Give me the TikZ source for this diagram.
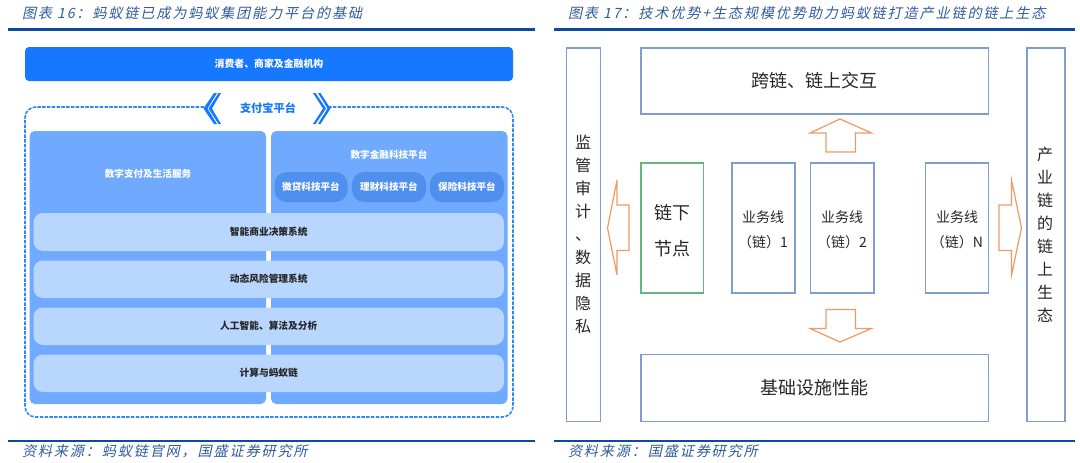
\documentclass[tikz,border=0pt]{standalone}
\usepackage{fontspec}
\setmainfont{Noto Sans CJK SC}
\newfontfamily\kai[FakeSlant=0.22,Color=2F5C9E,LetterSpace=13]{Noto Sans CJK SC}
\definecolor{rulec}{HTML}{0B4A9E}
\definecolor{barblue}{HTML}{1677FF}
\definecolor{panelblue}{HTML}{70AAFF}
\definecolor{pillblue}{HTML}{4F90EE}
\definecolor{lightblue}{HTML}{B9D6FF}
\definecolor{boxblue}{HTML}{7F9DD0}
\definecolor{boxgreen}{HTML}{62B680}
\definecolor{arroworange}{HTML}{EE9A66}
\definecolor{dark}{HTML}{262626}
\newcommand{\pxbox}[7]{%
  \pgfmathsetmacro{\pw}{(#5-#3)*0.75}\pgfmathsetmacro{\ph}{(#6-#4)*0.75}%
  \node[#2,minimum width=\pw pt,minimum height=\ph pt] (#1) at ({(#3+#5)/2},{(#4+#6)/2}) {#7};}
\tikzset{
  base/.style={inner sep=0pt,outer sep=0pt,align=center},
  topbar/.style={base,fill=barblue,rounded corners=3pt,text=white,font=\fontsize{7.4}{10}\selectfont\bfseries},
  panel/.style={base,fill=panelblue,rounded corners=4pt},
  pill/.style={base,fill=pillblue,rounded corners=9pt,text=white,font=\fontsize{7.2}{9}\selectfont\bfseries},
  lbar/.style={base,fill=lightblue,rounded corners=7pt,text=dark,font=\fontsize{7.3}{9}\selectfont\bfseries},
  wlabel/.style={base,text=white,font=\fontsize{7.2}{9}\selectfont\bfseries},
  rulel/.style={base,fill=rulec},
  titlet/.style={inner sep=0pt,outer sep=0pt,anchor=west,font=\fontsize{10.6}{12}\kai},
  foott/.style={inner sep=0pt,outer sep=0pt,anchor=west,font=\fontsize{10.6}{12}\kai},
  bbox/.style={base,draw=boxblue,line width=1pt,text=dark},
  gbox/.style={base,draw=boxgreen,line width=1pt,text=dark},
  bigt/.style={font=\fontsize{13.5}{20}\selectfont},
  midt/.style={font=\fontsize{10.5}{18.5}\selectfont},
  vert/.style={base,text=dark,font=\fontsize{12}{17.25}\selectfont},
  dashb/.style={draw=barblue!90!white,line width=1.2pt,dash pattern=on 2.6pt off 1pt},
  chev/.style={fill=barblue,draw=none},
  orangearrow/.style={draw=arroworange,line width=0.9pt,fill=white,line join=miter},
}
\begin{document}
\begin{tikzpicture}[x=0.75pt,y=-0.75pt]
\useasboundingbox (0,0) rectangle (1080,462);
% ---- left figure
\node[titlet] (t16) at (22,13) {图表 16：蚂蚁链已成为蚂蚁集团能力平台的基础};
\pxbox{rl1}{rulel}{8}{27.5}{535}{30.5}{}
\pxbox{consumers}{topbar}{25}{47}{513}{81}{消费者、商家及金融机构}
% dashed frame
\coordinate (dl) at (204,107);
\coordinate (dr) at (329,107);
\draw[dashb,rounded corners=8pt] (dl) -- (25,107) -- (25,417) -- (513,417) -- (513,107) -- (dr);
\node[base,text=barblue,font=\fontsize{8.4}{10}\selectfont\bfseries] (alipay) at (268,108.5) {支付宝平台};
% chevrons
\fill[chev] (214,93) -- (203.5,108.5) -- (214,124) -- (217,124) -- (207.5,108.5) -- (217,93) -- cycle;
\fill[chev] (218.5,93) -- (208.5,108.5) -- (218.5,124) -- (221,124) -- (212,108.5) -- (221,93) -- cycle;
\fill[chev] (313,93) -- (323,108.5) -- (313,124) -- (315.5,124) -- (326,108.5) -- (315.5,93) -- cycle;
\fill[chev] (318,93) -- (327.5,108.5) -- (318,124) -- (320.5,124) -- (330.5,108.5) -- (320.5,93) -- cycle;
% panels
\pxbox{pl}{panel}{29.5}{131}{266}{404}{}
\pxbox{pr}{panel}{271}{131}{507.5}{404}{}
\node[wlabel] (digpay) at (148,174) {数字支付及生活服务};
\node[wlabel] (digfin) at (389,155) {数字金融科技平台};
\pxbox{p1}{pill}{274.5}{172}{347.5}{202}{微贷科技平台}
\pxbox{p2}{pill}{352}{172}{426}{202}{理财科技平台}
\pxbox{p3}{pill}{430}{172}{504}{202}{保险科技平台}
\pxbox{b1}{lbar}{33.5}{213}{504}{251}{智能商业决策系统}
\pxbox{b2}{lbar}{33.5}{260.5}{504}{298}{动态风险管理系统}
\pxbox{b3}{lbar}{33.5}{307.5}{504}{345}{人工智能、算法及分析}
\pxbox{b4}{lbar}{33.5}{354.5}{504}{392}{计算与蚂蚁链}
\pxbox{rl2}{rulel}{8}{439.5}{535}{442}{}
\node[foott] (s16) at (22,451) {资料来源：蚂蚁链官网，国盛证券研究所};
% ---- right figure
\node[titlet] (t17) at (568,13) {图表 17：技术优势+生态规模优势助力蚂蚁链打造产业链的链上生态};
\pxbox{rr1}{rulel}{554}{27.5}{1075}{30.5}{}
\pxbox{audit}{bbox}{566.5}{48}{600.5}{421.5}{}
\pxbox{eco}{bbox}{1027}{48}{1065}{421.5}{}
\node[vert] (audittxt) at (583,234) {监\\管\\审\\计\\、\\数\\据\\隐\\私};
\node[vert] (ecotxt) at (1045,235) {产\\业\\链\\的\\链\\上\\生\\态};
\pxbox{cross}{bbox,bigt}{641}{48}{988.5}{114}{跨链、链上交互}
\pxbox{infra}{bbox,bigt}{641}{354.5}{988.5}{421.5}{基础设施性能}
\pxbox{off}{gbox}{641}{163}{703.5}{293}{}
\node[base,text=dark,font=\fontsize{13.5}{27}\selectfont] (offtxt) at (672,231) {链下\\节点};
\pxbox{l1}{bbox}{732}{163}{795}{293}{}
\pxbox{l2}{bbox}{810.5}{163}{874}{293}{}
\pxbox{ln}{bbox}{925.5}{163}{988.5}{293}{}
\node[base,text=dark,midt] (l1txt) at (763,229.5) {业务线\\（链）1};
\node[base,text=dark,midt] (l2txt) at (842,229.5) {业务线\\（链）2};
\node[base,text=dark,midt] (lntxt) at (957,229.5) {业务线\\（链）N};
% block arrows
\draw[orangearrow] (840,119) -- (871.5,133) -- (855.5,133) -- (855.5,152) -- (826,152) -- (826,133) -- (810,133) -- cycle;
\draw[orangearrow] (840,342) -- (871.5,328.5) -- (855.5,328.5) -- (855.5,309.5) -- (826,309.5) -- (826,328.5) -- (810,328.5) -- cycle;
\draw[orangearrow] (607.5,228) -- (617,180) -- (617,205) -- (629,205) -- (629,250.5) -- (617,250.5) -- (617,275) -- cycle;
\draw[orangearrow] (1021.5,228) -- (1011.5,180) -- (1011.5,205) -- (999,205) -- (999,250.5) -- (1011.5,250.5) -- (1011.5,275) -- cycle;
\pxbox{rr2}{rulel}{554}{439.5}{1075}{442}{}
\node[foott] (s17) at (568,451) {资料来源：国盛证券研究所};
\end{tikzpicture}
\end{document}
